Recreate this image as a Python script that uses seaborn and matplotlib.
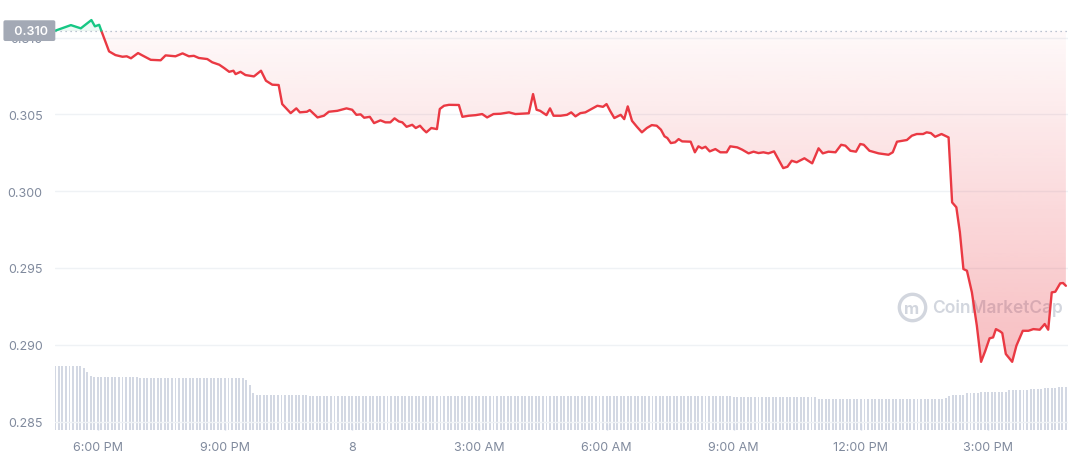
import numpy as np
import pandas as pd
import matplotlib
matplotlib.use("Agg")
import matplotlib.pyplot as plt
import matplotlib.dates as mdates
from matplotlib.colors import to_rgb
from matplotlib.ticker import FuncFormatter
import seaborn as sns

# price samples (day 7 from 17:00, then day 8)
price_times = ["17:00","17:22","17:36","17:51","17:56","18:02","18:05","18:16","18:25","18:35",
               "18:41","18:47","18:57","19:03","19:15","19:29","19:36","19:50","20:00","20:09",
               "20:16","20:23","20:35","20:42","20:52","20:59","21:06","21:12","21:15","21:22",
               "21:29","21:41","21:51","21:58","22:07","22:16","22:21","22:33","22:41","22:46",
               "22:56","23:00","23:11","23:20","23:27","23:39","23:52","00:00","00:06","00:12",
               "00:17","00:25","00:31","00:40","00:47","00:54","01:00","01:06","01:11","01:17",
               "01:25","01:30","01:36","01:41","01:45","01:52","02:00","02:04","02:10","02:17",
               "02:31","02:36","02:45","02:55","03:04","03:11","03:20","03:30","03:42","03:51",
               "04:10","04:16","04:21","04:26","04:35","04:40","04:45","04:55","05:04","05:10",
               "05:16","05:23","05:30","05:36","05:47","05:55","06:00","06:05","06:11","06:20",
               "06:25","06:30","06:36","06:43","06:50","06:57","07:04","07:11","07:17","07:22",
               "07:26","07:31","07:37","07:42","07:47","07:59","08:05","08:10","08:15","08:20",
               "08:26","08:34","08:41","08:50","08:55","09:05","09:12","09:21","09:28","09:35",
               "09:42","09:49","09:57","10:03","10:10","10:16","10:22","10:29","10:40","10:51",
               "11:00","11:06","11:14","11:24","11:32","11:38","11:45","11:53","11:59","12:04",
               "12:12","12:25","12:39","12:45","12:51","13:05","13:12","13:19","13:28","13:33",
               "13:39","13:45","13:54","14:04","14:09","14:15","14:20","14:25","14:30","14:37",
               "14:44","14:50","14:56","15:02","15:07","15:11","15:17","15:20","15:25","15:34",
               "15:40","15:49","15:57","16:04","16:13","16:20","16:25","16:30","16:35","16:42",
               "16:46","16:50"]
prices = [0.31045,0.31081,0.31060,0.31114,0.31073,0.31083,0.31045,0.30910,0.30886,0.30875,
          0.30878,0.30865,0.30899,0.30884,0.30855,0.30852,0.30884,0.30878,0.30897,0.30878,
          0.30881,0.30867,0.30860,0.30839,0.30823,0.30801,0.30777,0.30784,0.30762,0.30777,
          0.30756,0.30747,0.30784,0.30719,0.30693,0.30691,0.30567,0.30508,0.30539,0.30513,
          0.30517,0.30528,0.30480,0.30491,0.30517,0.30523,0.30539,0.30530,0.30497,0.30500,
          0.30478,0.30484,0.30443,0.30461,0.30448,0.30448,0.30474,0.30454,0.30448,0.30419,
          0.30432,0.30411,0.30426,0.30400,0.30383,0.30411,0.30404,0.30535,0.30556,0.30562,
          0.30561,0.30484,0.30491,0.30495,0.30502,0.30480,0.30502,0.30504,0.30513,0.30502,
          0.30507,0.30632,0.30530,0.30523,0.30495,0.30539,0.30491,0.30491,0.30497,0.30513,
          0.30487,0.30508,0.30513,0.30528,0.30556,0.30549,0.30567,0.30523,0.30476,0.30497,
          0.30469,0.30552,0.30458,0.30419,0.30383,0.30411,0.30430,0.30426,0.30400,0.30357,
          0.30346,0.30313,0.30318,0.30339,0.30324,0.30322,0.30253,0.30292,0.30279,0.30289,
          0.30259,0.30274,0.30253,0.30253,0.30292,0.30285,0.30270,0.30246,0.30257,0.30248,
          0.30253,0.30246,0.30259,0.30209,0.30150,0.30159,0.30198,0.30188,0.30214,0.30181,
          0.30279,0.30246,0.30257,0.30253,0.30302,0.30296,0.30263,0.30257,0.30307,0.30302,
          0.30263,0.30246,0.30237,0.30253,0.30322,0.30333,0.30361,0.30372,0.30372,0.30383,
          0.30378,0.30354,0.30372,0.30350,0.29927,0.29895,0.29732,0.29493,0.29482,0.29341,
          0.29124,0.28889,0.28961,0.29042,0.29048,0.29102,0.29087,0.29076,0.28940,0.28889,
          0.28994,0.29091,0.29091,0.29102,0.29098,0.29135,0.29098,0.29341,0.29345,0.29400,
          0.29402,0.29384]
open_price = 0.31045

# volume bars every 5 min, as (level, number of bars) runs
vol_levels = [64, 62, 58, 54, 53, 51.5, 50, 45, 37, 35, 34, 33, 31, 32, 33.5, 35, 37, 38, 40, 41, 42, 43]
vol_counts = [8, 1, 1, 1, 13, 30, 1, 1, 1, 15, 120, 24, 36, 1, 1, 4, 4, 8, 6, 4, 4, 3]

y_ticks = [0.285, 0.290, 0.295, 0.300, 0.305, 0.310]

RED = "#ea3943"
GREEN = "#16c784"
LABEL = "#808a9d"
MARK = "#d2d6de"


def to_stamp(hhmm):
    day = "2023-03-07" if int(hhmm[:2]) >= 17 else "2023-03-08"
    return pd.Timestamp(f"{day} {hhmm}")


df = pd.DataFrame({"time": [to_stamp(t) for t in price_times], "price": prices})
vol_time = pd.date_range("2023-03-07 17:00", periods=sum(vol_counts), freq="5min")
volume = np.repeat(vol_levels, vol_counts)

sns.set_theme(style="white")
plt.rcParams["font.family"] = ["Inter", "DejaVu Sans"]

fig = plt.figure(figsize=(10.68, 4.6), dpi=100)
ax = fig.add_axes([0.0515, 0.063, 0.9485, 0.937])
ax2 = ax.twinx()
ax.set_zorder(ax2.get_zorder() + 1)
ax.patch.set_visible(False)

# volume
ax2.bar(vol_time, volume, width=5 / 1440 * 0.55, color="#d3d8e3", linewidth=0)
ax2.set_ylim(0, max(vol_levels) * 6.73)
ax2.axis("off")

# price line, green above the open, red below
k = int(np.argmax(df["price"].values < open_price))
up = df.iloc[:k]
down = df.iloc[k - 1:]

# gradient fill under the open price
xnum = mdates.date2num(df["time"])
poly = ax.fill_between(df["time"], df["price"], open_price, facecolor="none", edgecolor="none")
clip = poly.get_paths()[0]
grad = np.zeros((256, 1, 4))
grad[..., :3] = to_rgb(RED)
grad[..., 3] = np.linspace(0.33, 0.03, 256)[:, None]
im = ax.imshow(grad, extent=[xnum[0], xnum[-1], df["price"].min(), open_price],
               origin="lower", aspect="auto", zorder=2, interpolation="bilinear")
im.set_clip_path(clip, transform=ax.transData)
ax.fill_between(up["time"], up["price"], open_price, color=GREEN, alpha=0.08, linewidth=0, zorder=2)

ax.axhline(open_price, color="#a6b0c3", linestyle=(0, (1, 3)), linewidth=0.9, zorder=3)
sns.lineplot(data=down, x="time", y="price", color=RED, linewidth=1.7, ax=ax, zorder=4)
sns.lineplot(data=up, x="time", y="price", color=GREEN, linewidth=1.7, ax=ax, zorder=4)

ax.set_xlim(pd.Timestamp("2023-03-07 16:59:30"), pd.Timestamp("2023-03-08 16:53"))
ax.set_ylim(0.28445, 0.31251)

# axes styling
ax.set_yticks(y_ticks)
ax.yaxis.set_major_formatter(FuncFormatter(lambda v, p: f"{v:.3f}"))
ax.tick_params(axis="y", length=0, pad=9, labelsize=9, labelcolor=LABEL)
ax.grid(axis="y", color="#eff2f5", linewidth=1)
ax.grid(axis="x", visible=False)


def time_label(v, p):
    d = mdates.num2date(v)
    if d.hour == 0:
        return str(d.day)
    return d.strftime("%-I:%M %p")


ax.xaxis.set_major_locator(mdates.HourLocator(byhour=range(0, 24, 3)))
ax.xaxis.set_major_formatter(FuncFormatter(time_label))
ax.tick_params(axis="x", bottom=True, length=4, width=1, direction="in", color="#cfd6e4",
               pad=8, labelsize=9, labelcolor=LABEL)
for s in ax.spines.values():
    s.set_visible(False)
ax.set_xlabel("")
ax.set_ylabel("")

# open price badge (drawn over the 0.310 tick label, as in the original)
ax.text(-0.004, open_price, "  " + f"{open_price:.3f}" + " ", transform=ax.get_yaxis_transform(),
        ha="right", va="center", color="white", fontsize=9, fontweight="semibold",
        bbox=dict(boxstyle="round,pad=0.35,rounding_size=0.15", fc="#a3a9b5", ec="none"),
        zorder=10, clip_on=False)

# watermark
ax.plot([0.846], [0.285], marker="o", ms=19, mfc="none", mec=MARK, mew=2.4,
        transform=ax.transAxes, zorder=1)
ax.text(0.846, 0.283, "m", transform=ax.transAxes, ha="center", va="center",
        fontsize=12, color=MARK, fontweight="bold", zorder=1)
ax.text(0.866, 0.285, "CoinMarketCap", transform=ax.transAxes, ha="left", va="center",
        fontsize=12.5, color=MARK, fontweight="semibold", zorder=1)

fig.savefig("out.png", dpi=100, facecolor="white")
